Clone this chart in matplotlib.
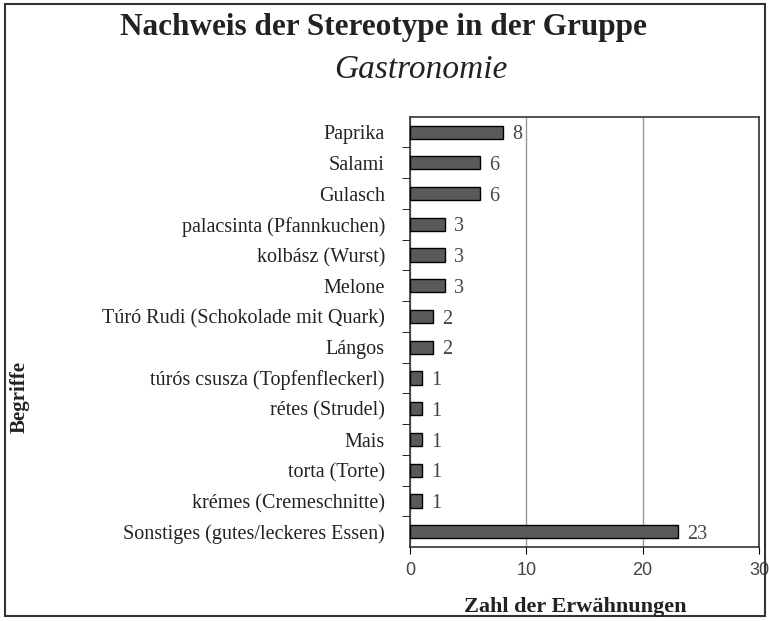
import matplotlib.pyplot as plt
from matplotlib.patches import Rectangle

# Begriffe und Zahl der Erwähnungen (von oben nach unten)
begriffe = [
    'Paprika',
    'Salami',
    'Gulasch',
    'palacsinta (Pfannkuchen)',
    'kolbász (Wurst)',
    'Melone',
    'Túró Rudi (Schokolade mit Quark)',
    'Lángos',
    'túrós csusza (Topfenfleckerl)',
    'rétes (Strudel)',
    'Mais',
    'torta (Torte)',
    'krémes (Cremeschnitte)',
    'Sonstiges (gutes/leckeres Essen)',
]
werte = [8, 6, 6, 3, 3, 3, 2, 2, 1, 1, 1, 1, 1, 23]
x_ticks = [0, 10, 20, 30]

serif = 'Liberation Serif'
sans = 'Liberation Sans'

fig = plt.figure(figsize=(7.69, 6.21), dpi=100)
ax = fig.add_axes([0.533, 0.119, 0.454, 0.693])

pos = list(range(len(begriffe)))
ax.barh(pos, werte, height=0.43, color='#5a5a5a', edgecolor='black', linewidth=1, zorder=3)
for p, w in zip(pos, werte):
    ax.text(w + 0.8, p, str(w), va='center_baseline', ha='left', fontsize=14.5,
            family=serif, color='#444444')

ax.set_ylim(len(begriffe) - 0.5, -0.5)
ax.set_xlim(0, 30)
ax.set_xticks(x_ticks)
ax.set_xticklabels([str(t) for t in x_ticks], family=sans, fontsize=13, color='#444444')
ax.set_yticks(pos)
ax.set_yticklabels(begriffe, family=serif, fontsize=14.5, color='#222222')
ax.tick_params(axis='y', length=0, pad=18)
ax.set_yticks([p + 0.5 for p in pos[:-1]], minor=True)
ax.tick_params(axis='y', which='minor', length=6, direction='out')
ax.tick_params(axis='x', length=5, direction='out', pad=6)
ax.grid(axis='x', color='#999999', linewidth=1, zorder=0)
for s in ax.spines.values():
    s.set_linewidth(1.2)
    s.set_color('#333333')

fig.text(0.748, 0.022, 'Zahl der Erwähnungen', family=serif, fontsize=16, fontweight='bold',
         color='#222222', ha='center', va='center')
fig.text(0.025, 0.36, 'Begriffe', rotation=90, family=serif, fontsize=15,
         fontweight='bold', color='#222222', ha='center', va='center')

fig.text(0.499, 0.955, 'Nachweis der Stereotype in der Gruppe', family=serif,
         fontsize=22.5, fontweight='bold', color='#222222', ha='center', va='center')
fig.text(0.547, 0.888, 'Gastronomie', family=serif, fontsize=24, style='italic',
         color='#222222', ha='center', va='center')

# Rahmen um die ganze Abbildung
fig.patches.append(Rectangle((0.007, 0.008), 0.988, 0.985, transform=fig.transFigure,
                             fill=False, edgecolor='#333333', linewidth=1.5))

fig.savefig('out.png', dpi=100)
